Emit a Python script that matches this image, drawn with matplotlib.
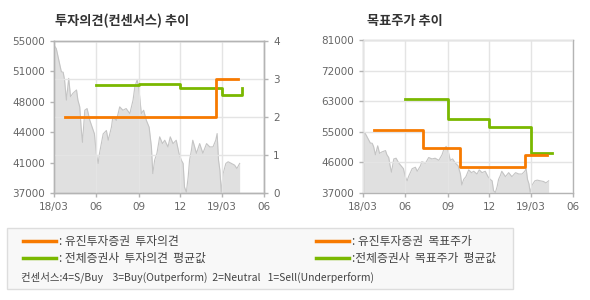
import numpy as np
import pandas as pd
import matplotlib
matplotlib.use("Agg")
import matplotlib.pyplot as plt
from matplotlib.lines import Line2D
from matplotlib.patches import Rectangle

plt.rcParams["font.family"] = ["Noto Sans CJK KR", "DejaVu Sans"]

# daily close (approx.)
price_dates = [
  "2018-03-01", "2018-03-06", "2018-03-13", "2018-03-17", "2018-03-21", "2018-03-24",
  "2018-03-28", "2018-04-02", "2018-04-06", "2018-04-11", "2018-04-19", "2018-04-22",
  "2018-04-26", "2018-04-29", "2018-05-02", "2018-05-07", "2018-05-12", "2018-05-18",
  "2018-05-23", "2018-05-28", "2018-06-01", "2018-06-05", "2018-06-08", "2018-06-16",
  "2018-06-23", "2018-06-27", "2018-07-04", "2018-07-07", "2018-07-15", "2018-07-22",
  "2018-07-29", "2018-08-05", "2018-08-13", "2018-08-20", "2018-08-24", "2018-08-29",
  "2018-09-02", "2018-09-07", "2018-09-12", "2018-09-18", "2018-09-24", "2018-09-29",
  "2018-10-02", "2018-10-06", "2018-10-11", "2018-10-17", "2018-10-23", "2018-10-28",
  "2018-11-04", "2018-11-09", "2018-11-15", "2018-11-22", "2018-11-28", "2018-12-03",
  "2018-12-07", "2018-12-10", "2018-12-14", "2018-12-18", "2018-12-21", "2018-12-25",
  "2018-12-28", "2019-01-05", "2019-01-12", "2019-01-19", "2019-01-27", "2019-02-03",
  "2019-02-10", "2019-02-16", "2019-02-19", "2019-02-22", "2019-02-25", "2019-02-28",
  "2019-03-04", "2019-03-10", "2019-03-15", "2019-03-22", "2019-03-29", "2019-04-03",
  "2019-04-09",
]
price_values = [
  54500, 54100, 52350, 51360, 51300, 50370, 48000, 50570, 48400, 48800, 49200, 48000,
  47200, 44800, 43000, 46800, 47000, 45600, 44800, 44000, 41700, 40500, 41700, 44000,
  44400, 43250, 44800, 46000, 45600, 47200, 46800, 47000, 46400, 48000, 49600, 50400,
  49200, 46400, 46800, 45600, 44800, 42460, 39300, 40900, 41700, 43650, 42850, 43250,
  42460, 43650, 42850, 43250, 41700, 40900, 40500, 37700, 37100, 38900, 40900, 42060,
  43250, 41700, 42850, 41700, 42850, 42460, 42460, 43250, 44040, 40900, 39700, 37100,
  39300, 40500, 40700, 40500, 40300, 39900, 40500,
]

# investment opinion (right axis, 0-4)
opinion_dates = ["2018-03-24", "2019-02-16", "2019-04-06"]
opinion_values = [2, 3, 3]
avg_opinion_dates = ["2018-06-01", "2018-09-01", "2018-12-01", "2019-03-01", "2019-04-14", "2019-04-14"]
avg_opinion_values = [2.84, 2.87, 2.77, 2.58, 2.77, 2.77]

# target price
target_dates = ["2018-03-24", "2018-07-09", "2018-09-29", "2019-02-16", "2019-04-05"]
target_values = [55000, 50000, 44500, 48000, 48000]
avg_target_dates = ["2018-06-01", "2018-09-01", "2018-12-01", "2019-03-01", "2019-04-16"]
avg_target_values = [64000, 58300, 56000, 48400, 48400]

xtick_dates = ["2018-03-01", "2018-06-01", "2018-09-01", "2018-12-01", "2019-03-01", "2019-06-01"]
xtick_labels = ["18/03", "06", "09", "12", "19/03", "06"]
left_labels = ["37000", "41000", "44000", "48000", "51000", "55000"]
right_labels = ["37000", "46000", "55000", "63000", "72000", "81000"]

ORANGE = "#f77a00"
GREEN = "#7ab800"
GRID = "#e4e4e4"
SPINE = "#b4b4b4"
TICK = "#666666"

pd_price = pd.to_datetime(price_dates)
xt = pd.to_datetime(xtick_dates)

W, H = 590, 300
fig = plt.figure(figsize=(W / 100, H / 100), dpi=100)


def px_axes(x0, y0, x1, y1):
  return fig.add_axes([x0 / W, 1 - y1 / H, (x1 - x0) / W, (y1 - y0) / H])


def style_axes(ax):
  for s in ax.spines.values():
    s.set_color(SPINE)
    s.set_linewidth(1)
  ax.tick_params(colors=SPINE, labelcolor=TICK, labelsize=7.5, length=3, width=1)
  for lab in ax.get_xticklabels() + ax.get_yticklabels():
    lab.set_family("DejaVu Sans")


def draw_price(ax, lo, hi, labels):
  ax.fill_between(pd_price, price_values, lo, color="#e0e0e0", lw=0, zorder=1)
  ax.plot(pd_price, price_values, color="#c4c4c4", lw=0.8, zorder=2)
  ax.set_ylim(lo, hi)
  ax.set_xlim(xt[0], xt[-1])
  ax.set_xticks(xt)
  ax.set_xticklabels(xtick_labels)
  ax.set_yticks(np.linspace(lo, hi, 6))
  ax.set_yticklabels(labels)
  ax.xaxis.grid(True, color=GRID, lw=1, zorder=3)
  ax.set_axisbelow(False)


# left chart: opinion
ax1 = px_axes(54, 41, 264, 193)
draw_price(ax1, 37000, 55000, left_labels)
ax1.yaxis.grid(False)
style_axes(ax1)

ax1b = ax1.twinx()
ax1b.set_ylim(0, 4)
ax1b.set_yticks([0, 1, 2, 3, 4])
ax1b.yaxis.grid(True, color=GRID, lw=1)
ax1b.step(pd.to_datetime(avg_opinion_dates), avg_opinion_values, where="post", color=GREEN, lw=2)
ax1b.step(pd.to_datetime(opinion_dates), opinion_values, where="post", color=ORANGE, lw=2)
style_axes(ax1b)
ax1b.set_xlim(xt[0], xt[-1])

fig.text(55 / W, 1 - 21 / H, "투자의견(컨센서스) 추이", fontsize=9.5, fontweight="bold",
         color="#333333", va="center")

# right chart: target price
ax2 = px_axes(363, 40, 573, 193)
draw_price(ax2, 37000, 81000, right_labels)
ax2.yaxis.grid(True, color=GRID, lw=1, zorder=3)
ax2.step(pd.to_datetime(avg_target_dates), avg_target_values, where="post", color=GREEN, lw=2, zorder=4)
ax2.step(pd.to_datetime(target_dates), target_values, where="post", color=ORANGE, lw=2, zorder=4)
style_axes(ax2)

fig.text(367 / W, 1 - 21 / H, "목표주가 추이", fontsize=9.5, fontweight="bold",
         color="#333333", va="center")

# legend box
fig.patches.append(Rectangle((7 / W, 1 - 289 / H), 506 / W, 61 / H, transform=fig.transFigure,
                             facecolor="#f8f8f8", edgecolor="#dddddd", lw=1))

legend_rows = [
  (23, 241, ORANGE, ": 유진투자증권  투자의견"),
  (23, 258, GREEN, ": 전체증권사  투자의견  평균값"),
  (316, 241, ORANGE, ": 유진투자증권  목표주가"),
  (316, 258, GREEN, ":전체증권사  목표주가  평균값"),
]
for x, y, c, label in legend_rows:
  fig.add_artist(Line2D([x / W, (x + 33) / W], [1 - y / H, 1 - y / H], color=c, lw=2.5,
                        transform=fig.transFigure))
  fig.text((x + 36) / W, 1 - y / H, label, fontsize=8.5, color="#444444", va="center")

fig.text(21 / W, 1 - 277 / H,
         "컨센서스:4=S/Buy    3=Buy(Outperform)  2=Neutral   1=Sell(Underperform)",
         fontsize=7.5, color="#444444", va="center")

fig.savefig("out.png", dpi=100)
